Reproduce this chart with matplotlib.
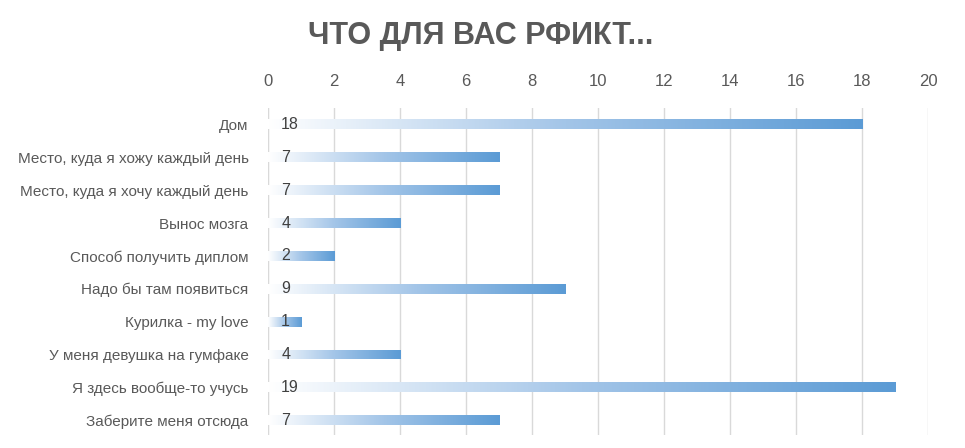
import numpy as np
import matplotlib
matplotlib.use('Agg')
import matplotlib.pyplot as plt
from matplotlib.colors import LinearSegmentedColormap

plt.rcParams['font.family'] = ['Liberation Sans Narrow', 'Liberation Sans', 'DejaVu Sans']

# данные
categories = ['Дом', 'Место, куда я хожу каждый день', 'Место, куда я хочу каждый день',
              'Вынос мозга', 'Способ получить диплом', 'Надо бы там появиться',
              'Курилка - my love', 'У меня девушка на гумфаке', 'Я здесь вообще-то учусь',
              'Заберите меня отсюда']
values = [18, 7, 7, 4, 2, 9, 1, 4, 19, 7]
xticks = list(range(0, 21, 2))

grad = LinearSegmentedColormap.from_list('grad', ['#ffffff', '#a3c5e8', '#5b9bd5'])

fig = plt.figure(figsize=(9.65, 4.48), dpi=100, facecolor='white')
ax = fig.add_axes([0.2777, 0.029, 0.684, 0.73])

y = np.arange(len(categories))
bars = ax.barh(y, values, height=0.3, color='none', edgecolor='none', zorder=3)

# градиент в каждом столбце
g = np.linspace(0, 1, 256).reshape(1, -1)
for b in bars:
    x0, y0 = b.get_x(), b.get_y()
    w, h = b.get_width(), b.get_height()
    im = ax.imshow(g, cmap=grad, aspect='auto', extent=(x0, x0 + w, y0 + h, y0),
                   zorder=3, interpolation='bilinear')
    im.set_clip_path(b)

for yi, v in zip(y, values):
    ax.text(0.4, yi, str(v), va='center', ha='left', fontsize=11.5, color='#404040', zorder=4)

ax.set_xlim(0, 20)
ax.set_ylim(9.45, -0.5)
ax.set_xticks(xticks)
ax.set_yticks(y)
ax.set_yticklabels(categories, fontsize=11, color='#595959')
ax.xaxis.tick_top()
ax.tick_params(axis='x', length=0, labelsize=12, labelcolor='#595959', pad=14)
ax.tick_params(axis='y', length=0, pad=14)
ax.grid(axis='x', color='#d9d9d9', linewidth=1, zorder=0)
for s in ax.spines.values():
    s.set_visible(False)
ax.axvline(0, color='#d9d9d9', linewidth=1.5, zorder=1)

fig.text(0.498, 0.92, 'ЧТО ДЛЯ ВАС РФИКТ...', ha='center', va='center',
         fontsize=22, fontweight='bold', color='#595959')

fig.savefig('out.png', dpi=100, facecolor='white')
